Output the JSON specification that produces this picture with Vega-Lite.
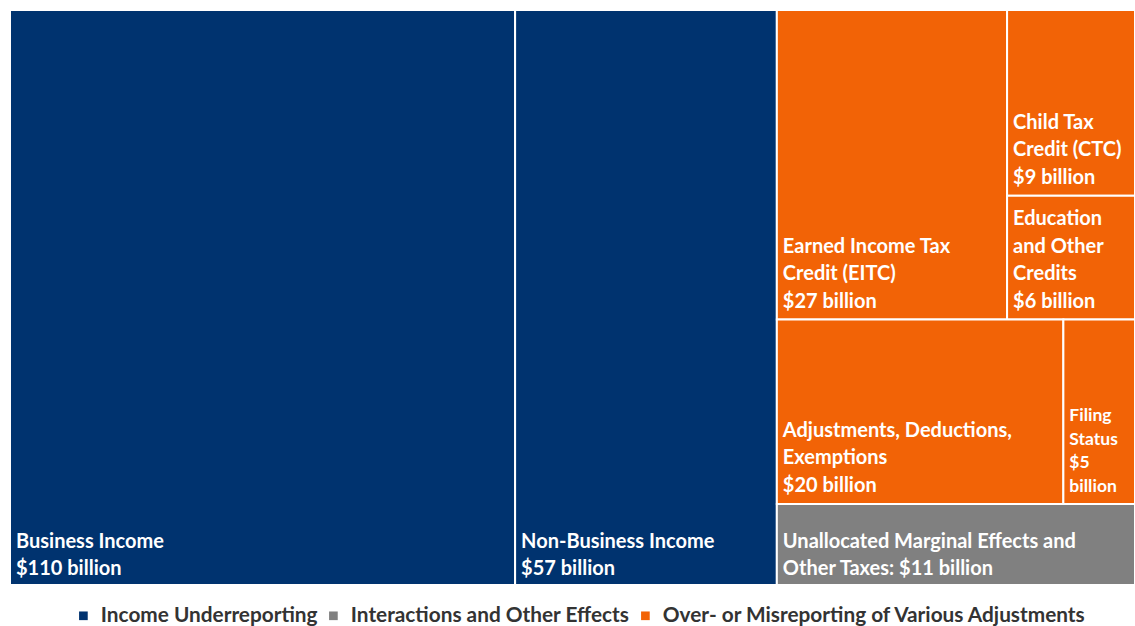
{
  "$schema": "https://vega.github.io/schema/vega-lite/v6.json",
  "width": 1125,
  "height": 575,
  "autosize": {"type": "none"},
  "padding": {"left": 10, "top": 10, "right": 0, "bottom": 41},
  "background": "white",
  "config": {"view": {"stroke": null}},
  "data": {
    "values": [
      {"name": "Business Income", "label": ["Business Income", "$110 billion"], "amount": 110, "category": "Income Underreporting", "col": 1, "row": 1, "sub": 1, "pos": 1},
      {"name": "Non-Business Income", "label": ["Non-Business Income", "$57 billion"], "amount": 57, "category": "Income Underreporting", "col": 2, "row": 1, "sub": 1, "pos": 1},
      {"name": "EITC", "label": ["Earned Income Tax", "Credit (EITC)", "$27 billion"], "amount": 27, "category": "Over- or Misreporting of Various Adjustments", "col": 3, "row": 1, "sub": 1, "pos": 1},
      {"name": "CTC", "label": ["Child Tax", "Credit (CTC)", "$9 billion"], "amount": 9, "category": "Over- or Misreporting of Various Adjustments", "col": 3, "row": 1, "sub": 2, "pos": 1},
      {"name": "Education", "label": ["Education", "and Other", "Credits", "$6 billion"], "amount": 6, "category": "Over- or Misreporting of Various Adjustments", "col": 3, "row": 1, "sub": 2, "pos": 2},
      {"name": "Adjustments", "label": ["Adjustments, Deductions,", "Exemptions", "$20 billion"], "amount": 20, "category": "Over- or Misreporting of Various Adjustments", "col": 3, "row": 2, "sub": 1, "pos": 1},
      {"name": "Filing Status", "label": ["Filing", "Status", "$5", "billion"], "amount": 5, "category": "Over- or Misreporting of Various Adjustments", "col": 3, "row": 2, "sub": 2, "pos": 1},
      {"name": "Unallocated", "label": ["Unallocated Marginal Effects and", "Other Taxes: $11 billion"], "amount": 11, "category": "Interactions and Other Effects", "col": 3, "row": 3, "sub": 1, "pos": 1}
    ]
  },
  "transform": [
    {"stack": "amount", "groupby": [], "sort": [{"field": "col", "order": "ascending"}, {"field": "row", "order": "ascending"}, {"field": "sub", "order": "ascending"}, {"field": "pos", "order": "ascending"}], "as": ["a0", "a1"]},
    {"joinaggregate": [{"op": "min", "field": "a0", "as": "colStart"}, {"op": "max", "field": "a1", "as": "colEnd"}], "groupby": ["col"]},
    {"stack": "amount", "groupby": ["col"], "sort": [{"field": "row", "order": "ascending"}, {"field": "sub", "order": "ascending"}, {"field": "pos", "order": "ascending"}], "offset": "normalize", "as": ["r0", "r1"]},
    {"joinaggregate": [{"op": "min", "field": "r0", "as": "rowStart"}, {"op": "max", "field": "r1", "as": "rowEnd"}], "groupby": ["col", "row"]},
    {"stack": "amount", "groupby": ["col", "row"], "sort": [{"field": "sub", "order": "ascending"}, {"field": "pos", "order": "ascending"}], "offset": "normalize", "as": ["s0", "s1"]},
    {"joinaggregate": [{"op": "min", "field": "s0", "as": "subStart"}, {"op": "max", "field": "s1", "as": "subEnd"}], "groupby": ["col", "row", "sub"]},
    {"stack": "amount", "groupby": ["col", "row", "sub"], "sort": [{"field": "pos", "order": "ascending"}], "offset": "normalize", "as": ["p0", "p1"]},
    {"calculate": "datum.colStart + (datum.colEnd - datum.colStart) * datum.subStart", "as": "x0"},
    {"calculate": "datum.colStart + (datum.colEnd - datum.colStart) * datum.subEnd", "as": "x1"},
    {"calculate": "datum.rowStart + (datum.rowEnd - datum.rowStart) * datum.p0", "as": "y0"},
    {"calculate": "datum.rowStart + (datum.rowEnd - datum.rowStart) * datum.p1", "as": "y1"}
  ],
  "encoding": {
    "x": {"field": "x0", "type": "quantitative", "scale": {"domain": [0, 245], "nice": false, "zero": false}, "axis": null}
  },
  "layer": [
    {
      "mark": {"type": "rect", "stroke": "white", "strokeWidth": 2},
      "encoding": {
        "x2": {"field": "x1"},
        "y": {"field": "y0", "type": "quantitative", "scale": {"domain": [0, 1], "reverse": true, "nice": false, "zero": false}, "axis": null},
        "y2": {"field": "y1"},
        "color": {
          "field": "category", "type": "nominal",
          "scale": {"domain": ["Income Underreporting", "Interactions and Other Effects", "Over- or Misreporting of Various Adjustments"], "range": ["#00336F", "#808080", "#F26306"]},
          "legend": {"orient": "none", "legendX": 63, "legendY": 595, "direction": "horizontal", "title": null, "symbolType": "square", "symbolSize": 75, "symbolStrokeWidth": 0, "symbolOffset": 0, "labelOffset": 7, "labelFont": "Lato", "labelFontSize": 20.8, "labelFontWeight": "bold", "labelColor": "#333333", "columnPadding": 5, "labelLimit": 600}
        }
      }
    },
    {
      "transform": [{"filter": "datum.name != 'Filing Status' && length(datum.label) == 2"}],
      "mark": {"type": "text", "align": "left", "baseline": "bottom", "dx": 6, "dy": -33.5, "font": "Lato", "fontSize": 20, "fontWeight": "bold", "color": "white", "lineHeight": 27.5},
      "encoding": {
        "y": {"field": "y1", "type": "quantitative", "scale": {"domain": [0, 1], "reverse": true, "nice": false, "zero": false}, "axis": null},
        "text": {"field": "label", "type": "nominal"}
      }
    },
    {
      "transform": [{"filter": "datum.name != 'Filing Status' && length(datum.label) == 3"}],
      "mark": {"type": "text", "align": "left", "baseline": "bottom", "dx": 6, "dy": -63, "font": "Lato", "fontSize": 20, "fontWeight": "bold", "color": "white", "lineHeight": 27.5},
      "encoding": {
        "y": {"field": "y1", "type": "quantitative", "scale": {"domain": [0, 1], "reverse": true, "nice": false, "zero": false}, "axis": null},
        "text": {"field": "label", "type": "nominal"}
      }
    },
    {
      "transform": [{"filter": "datum.name != 'Filing Status' && length(datum.label) == 4"}],
      "mark": {"type": "text", "align": "left", "baseline": "bottom", "dx": 6, "dy": -90.5, "font": "Lato", "fontSize": 20, "fontWeight": "bold", "color": "white", "lineHeight": 27.5},
      "encoding": {
        "y": {"field": "y1", "type": "quantitative", "scale": {"domain": [0, 1], "reverse": true, "nice": false, "zero": false}, "axis": null},
        "text": {"field": "label", "type": "nominal"}
      }
    },
    {
      "transform": [{"filter": "datum.name == 'Filing Status'"}],
      "mark": {"type": "text", "align": "left", "baseline": "bottom", "dx": 6, "dy": -78.5, "font": "Lato", "fontSize": 17.5, "fontWeight": "bold", "color": "white", "lineHeight": 23.5},
      "encoding": {
        "y": {"field": "y1", "type": "quantitative", "scale": {"domain": [0, 1], "reverse": true, "nice": false, "zero": false}, "axis": null},
        "text": {"field": "label", "type": "nominal"}
      }
    }
  ]
}
